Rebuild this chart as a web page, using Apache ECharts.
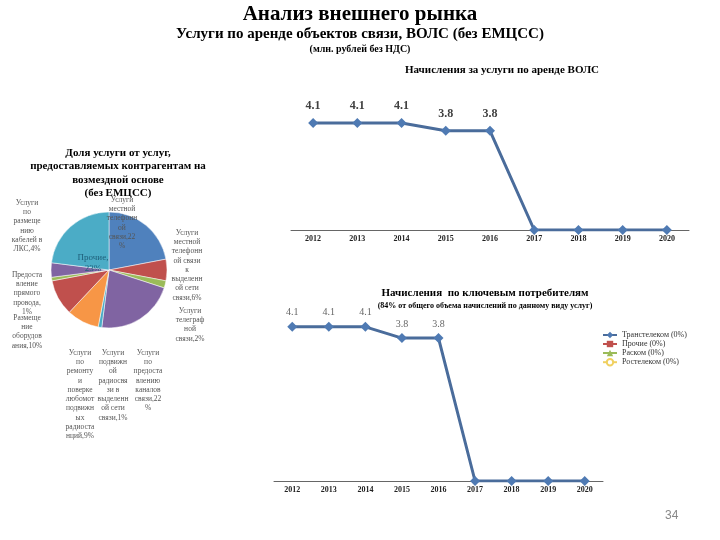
<!DOCTYPE html>
<html><head><meta charset="utf-8">
<script src="https://cdn.jsdelivr.net/npm/echarts@6/dist/echarts.min.js"></script>
<style>html,body{margin:0;padding:0;background:#fff}#c{width:720px;height:540px}</style>
</head><body><div id="c"></div>
<script>
// ---- data ----
var years = ['2012','2013','2014','2015','2016','2017','2018','2019','2020'];
var volsValues = [4.1, 4.1, 4.1, 3.8, 3.8, 0, 0, 0, 0];
var keyConsumerValues = [4.1, 4.1, 4.1, 3.8, 3.8, 0, 0, 0, 0];
var legendNames = ['Транстелеком (0%)', 'Прочие (0%)', 'Раском (0%)', 'Ростелеком (0%)'];
var pieNames = [
  'Услуги местной телефонной связи',
  'Услуги местной телефонной связи к выделенной сети связи',
  'Услуги телеграфной связи',
  'Услуги по предоставлению каналов связи',
  'Услуги подвижной радиосвязи в выделенной сети связи',
  'Услуги по ремонту и поверке любомот подвижных радиостанций',
  'Размещение оборудования',
  'Предоставление прямого провода',
  'Услуги по размещению кабелей в ЛКС',
  'Прочие'
];
var pieValues = [22, 6, 2, 22, 1, 9, 10, 1, 4, 23];

var pieColors = ['#4F81BD','#C0504D','#9BBB59','#8064A2','#4BACC6','#F79646','#C0504D','#9BBB59','#8064A2','#4BACC6'];
var serif = 'Liberation Serif';
// label anchor points (layout only)
var pieLabelPos = [[122,195],[187,228],[190,306],[148,348],[113,348],[80,348],[27,313],[27,270],[27,198],[93,252]];

var ctx = document.createElement('canvas').getContext('2d');
ctx.font = '7.5px "Liberation Serif"';
function wrap(text, maxW){
  var words = text.split(' '), lines = [], cur = '';
  function pushWord(w){
    while (ctx.measureText(w).width > maxW) {
      var k = 1;
      while (k < w.length && ctx.measureText(w.slice(0,k+1)).width <= maxW) k++;
      lines.push(w.slice(0,k)); w = w.slice(k);
    }
    return w;
  }
  words.forEach(function(w){
    var trial = cur ? cur + ' ' + w : w;
    if (ctx.measureText(trial).width <= maxW) { cur = trial; }
    else {
      if (cur) lines.push(cur);
      cur = pushWord(w);
    }
  });
  if (cur) lines.push(cur);
  return lines.join('\n');
}

var chart = echarts.init(document.getElementById('c'));
var pieData = pieNames.map(function(n,i){
  var d = {name:n, value:pieValues[i], itemStyle:{color:pieColors[i]}};
  if (n === 'Прочие') {
    d.label = {formatter:'{b},\n{c}%', color:'#1F5F7A', fontSize:9, lineHeight:11};
  }
  return d;
});

var axisLabel = {fontFamily:serif, fontWeight:'bold', fontSize:8, color:'#222', margin:5};
chart.setOption({
  animation:false,
  title:[
    {text:'Анализ внешнего рынка', left:'center', top:-1, textStyle:{fontFamily:serif, fontSize:21, fontWeight:'bold', color:'#000'}},
    {text:'Услуги по аренде объектов связи, ВОЛС (без ЕМЦСС)', left:'center', top:22, textStyle:{fontFamily:serif, fontSize:15, fontWeight:'bold', color:'#000'}},
    {text:'(млн. рублей без НДС)', left:'center', top:39, textStyle:{fontFamily:serif, fontSize:10, fontWeight:'bold', color:'#000'}},
    {text:'Начисления за услуги по аренде ВОЛС', left:497, top:60, textAlign:'center', textStyle:{fontFamily:serif, fontSize:11, fontWeight:'bold', color:'#000'}},
    {text:'Доля услуги от услуг,\nпредоставляемых контрагентам на\nвозмездной основе\n(без ЕМЦСС)', left:113, top:141, textAlign:'center', textStyle:{fontFamily:serif, fontSize:11, fontWeight:'bold', color:'#000', lineHeight:13.5}},
    {text:'Начисления  по ключевым потребителям', left:480, top:283, textAlign:'center', textStyle:{fontFamily:serif, fontSize:11, fontWeight:'bold', color:'#000'}},
    {text:'(84% от общего объема начислений по данному виду услуг)', left:480, top:297, textAlign:'center', textStyle:{fontFamily:serif, fontSize:8, fontWeight:'bold', color:'#000'}},
    {text:'34', left:660, top:505, textStyle:{fontFamily:'Liberation Sans', fontSize:12, fontWeight:'normal', color:'#888'}}
  ],
  legend:{
    left:597, top:326, orient:'vertical', itemGap:1, itemWidth:14, itemHeight:8,
    textStyle:{fontFamily:serif, fontSize:8, color:'#333'},
    data:legendNames
  },
  grid:[
    {left:291, width:398, top:99.5, height:130.5},
    {left:274, width:329, top:293, height:188}
  ],
  xAxis:[
    {gridIndex:0, type:'category', data:years, axisLine:{lineStyle:{color:'#666'}}, axisTick:{lineStyle:{color:'#666'}}, axisLabel:axisLabel},
    {gridIndex:1, type:'category', data:years, axisLine:{lineStyle:{color:'#666'}}, axisTick:{lineStyle:{color:'#666'}}, axisLabel:axisLabel}
  ],
  yAxis:[
    {gridIndex:0, type:'value', min:0, max:5, show:false},
    {gridIndex:1, type:'value', min:0, max:5, show:false}
  ],
  series:[
    {type:'line', xAxisIndex:0, yAxisIndex:0, data:volsValues, symbol:'diamond', symbolSize:10,
     lineStyle:{color:'#4A6C9B', width:3}, itemStyle:{color:'#4F7AB3'},
     label:{show:true, position:'top', distance:6, formatter:function(p){return p.value>0?p.value.toFixed(1):'';}, fontFamily:serif, fontWeight:'bold', fontSize:12, color:'#404040'}},
    {name:legendNames[0], type:'line', xAxisIndex:1, yAxisIndex:1, data:keyConsumerValues, symbol:'diamond', symbolSize:10,
     lineStyle:{color:'#4A6C9B', width:3}, itemStyle:{color:'#4F7AB3'},
     label:{show:true, position:'top', distance:4, formatter:function(p){return p.value>0?p.value.toFixed(1):'';}, fontFamily:serif, fontSize:10, color:'#666'}},
    {name:legendNames[1], type:'line', xAxisIndex:1, yAxisIndex:1, data:[], symbol:'rect', itemStyle:{color:'#C0504D'}, lineStyle:{color:'#C0504D'}},
    {name:legendNames[2], type:'line', xAxisIndex:1, yAxisIndex:1, data:[], symbol:'triangle', itemStyle:{color:'#9BBB59'}, lineStyle:{color:'#9BBB59'}},
    {name:legendNames[3], type:'line', xAxisIndex:1, yAxisIndex:1, data:[], symbol:'emptyCircle', itemStyle:{color:'#F0D060'}, lineStyle:{color:'#F0D060'}},
    {type:'pie', center:[109,270], radius:58, startAngle:90, clockwise:true,
     data:pieData,
     label:{show:true, position:'inside', formatter:function(p){return wrap(p.name+','+p.value+'%', 31);}, fontFamily:serif, fontSize:7.5, color:'#555', lineHeight:9.3, align:'center'},
     labelLine:{show:false},
     labelLayout:function(p){
       var q = pieLabelPos[p.dataIndex];
       return {x:q[0], y:q[1], align:'center', verticalAlign:'top', hideOverlap:false};
     },
     itemStyle:{borderColor:'#fff', borderWidth:0.5}}
  ]
});
</script></body></html>
